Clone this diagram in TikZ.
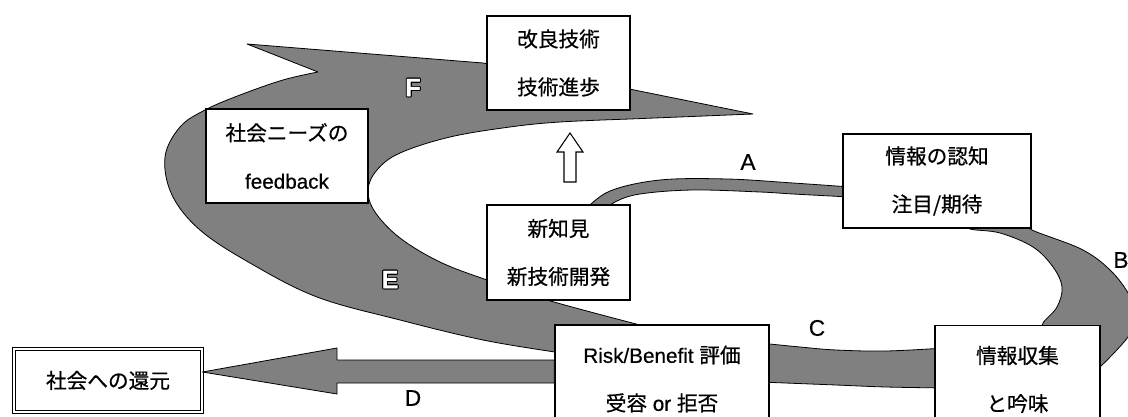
\documentclass[tikz,border=0pt]{standalone}
\usepackage{fontspec}
\setmainfont{Liberation Sans}[FakeBold=0.5]
\newfontfamily\jp{Noto Sans CJK JP}[FakeBold=0.6]
\usepackage{contour}
\contourlength{0.7pt}
\begin{document}
\begin{tikzpicture}[x=0.75pt,y=-0.75pt,
  band/.style={draw=black, line width=0.6pt, fill=black!50, line join=round},
  box/.style={draw=black, line width=1pt, fill=white, inner sep=0pt, align=center,
    font=\fontsize{15.5}{36}\selectfont},
  lbl/.style={font=\fontsize{17}{17}\selectfont, inner sep=0pt},
  wlbl/.style={font=\fontsize{19}{19}\bfseries\selectfont, inner sep=0pt, text=white}]
\useasboundingbox (0,0) rectangle (1128,417);

% big E/F spiral band
\draw[band] (247,44) -- (483,63) -- (560,75) -- (753,114) -- (630,119)
  -- plot[smooth, tension=0.6] coordinates {(630,119) (560,122) (510,127) (450,137) (400,153) (377,170) (368,190) (375,212) (400,238) (440,262) (487,280) (547,300) (640,325)}
  -- (640,352)
  -- plot[smooth, tension=0.6] coordinates {(555,352) (483,340) (400,320) (317,297) (250,263) (200,230) (172,195) (165,157) (180,127) (205,110) (240,95) (283,80) (318,72)}
  -- cycle;

% A band
\draw[band] plot[smooth, tension=0.6] coordinates {(585,210) (610,191) (660,180) (727,179) (793,183) (850,187)}
  -- (850,197)
  -- plot[smooth, tension=0.6] coordinates {(850,197) (793,194) (760,192) (693,190) (640,194) (615,202) (603,212)}
  -- cycle;

% B band
\draw[band] plot[smooth, tension=0.6] coordinates {(1025,222) (1032,230) (1083,250) (1113,273) (1132,300) (1136,318) (1128,337) (1100,367) (1090,372)}
  -- plot[smooth, tension=0.6] coordinates {(1043,332) (1043,323) (1057,307) (1062,287) (1053,267) (1033,247) (1000,233) (970,229) (965,222)}
  -- cycle;

% C band
\draw[band] plot[smooth, tension=0.6] coordinates {(760,343) (800,347) (836,350) (886,351) (945,348)}
  -- (945,388)
  -- plot[smooth, tension=0.6] coordinates {(945,388) (886,387) (836,385) (760,382)}
  -- cycle;

% boxes
\node[box, minimum width=143*0.75pt, minimum height=94*0.75pt] (kairyo) at (558.5,63) {{\jp 改良技術}\\{\jp 技術進歩}};
\node[box, minimum width=162*0.75pt, minimum height=94*0.75pt] (needs) at (287,156) {{\jp 社会ニーズの}\\feedback};
\node[box, minimum width=188*0.75pt, minimum height=94*0.75pt] (ninchi) at (937,181) {{\jp 情報の認知}\\{\jp 注目/期待}};
\node[box, minimum width=143*0.75pt, minimum height=95*0.75pt] (shinchi) at (558.5,252.5) {{\jp 新知見}\\{\jp 新技術開発}};
\node[box, minimum width=214*0.75pt, minimum height=108*0.75pt] (risk) at (662,379) {Risk/Benefit {\jp 評価}\\{\jp 受容} or {\jp 拒否}};
\node[box, minimum width=165*0.75pt, minimum height=108*0.75pt] (shushu) at (1017.5,379.5) {{\jp 情報収集}\\{\jp と吟味}};
\node[draw=black, double=white, double distance=2.2pt, line width=0.6pt, fill=white, inner sep=0pt,
  minimum width=188*0.75pt, minimum height=63*0.75pt, font=\fontsize{15.5}{18}\selectfont] (kangen) at (108,380.5) {\jp 社会への還元};

% D arrow
\draw[band] (risk.west |- 0,360) -- (337,360) -- (337,348) -- (kangen.east |- 0,372) -- (337,394) -- (337,383) -- (risk.west |- 0,383) -- cycle;

% hollow up arrow
\draw[line width=0.8pt, fill=white] (570,133) -- (583,152) -- (576,152) -- (576,182) -- (564,182) -- (564,152) -- (557,152) -- cycle;

% labels
\node[lbl] (la) at (748,162) {A};
\node[lbl] (lb) at (1121,260) {B};
\node[lbl] (lc) at (817,328) {C};
\node[lbl] (ld) at (413,398) {D};
\node[wlbl] (le) at (390,280) {\contour{black}{E}};
\node[wlbl] (lf) at (413,88) {\contour{black}{F}};
\end{tikzpicture}
\end{document}
